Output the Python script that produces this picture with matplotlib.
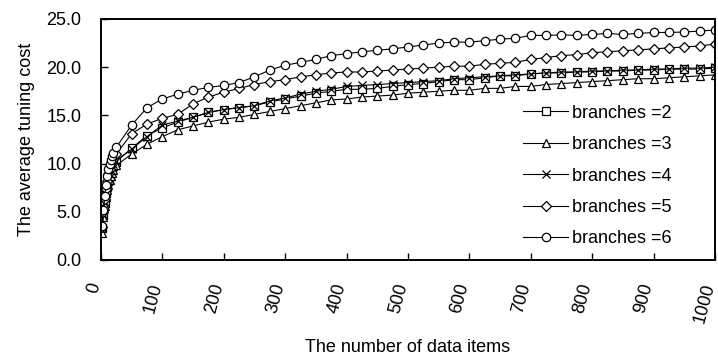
import numpy as np
import matplotlib
matplotlib.use('Agg')
import matplotlib.pyplot as plt
import matplotlib.transforms as mtransforms

plt.rcParams['font.family'] = ['Liberation Sans', 'DejaVu Sans']

# x positions: a dense run of small sizes, then every 25 items
x_dense = [2, 4, 6, 8, 10, 12, 14, 16, 18, 20, 25]
x_coarse = list(range(50, 1001, 25))
x_items = x_dense + x_coarse

b2_dense = [3.3, 4.7, 5.9, 6.9, 7.6, 8.2, 8.7, 9.1, 9.4, 9.7, 10.2]
b2_coarse = [11.6, 12.9, 13.7, 14.3, 14.8, 15.3, 15.6, 15.8, 16.0, 16.4, 16.7, 17.0, 17.3,
             17.5, 17.7, 17.7, 17.8, 18.0, 18.2, 18.3, 18.5, 18.7, 18.7, 18.9, 19.1, 19.1,
             19.3, 19.4, 19.4, 19.5, 19.5, 19.6, 19.6, 19.7, 19.7, 19.8, 19.8, 19.8, 19.9]

b3_dense = [2.8, 4.4, 5.6, 6.5, 7.2, 7.8, 8.3, 8.7, 9.0, 9.3, 9.8]
b3_coarse = [11.0, 12.0, 12.8, 13.5, 13.9, 14.3, 14.6, 14.8, 15.1, 15.4, 15.7, 16.0, 16.3,
             16.6, 16.7, 16.9, 17.0, 17.1, 17.3, 17.4, 17.5, 17.6, 17.6, 17.8, 17.8, 18.0,
             18.0, 18.2, 18.3, 18.4, 18.5, 18.6, 18.7, 18.8, 18.8, 18.9, 19.0, 19.1, 19.2]

b4_dense = [3.3, 4.8, 6.0, 7.0, 7.8, 8.4, 8.9, 9.3, 9.6, 9.9, 10.3]
b4_coarse = [11.5, 12.8, 14.0, 14.4, 14.8, 15.3, 15.6, 15.8, 16.0, 16.5, 16.8, 17.2, 17.5,
             17.7, 18.0, 18.1, 18.2, 18.3, 18.4, 18.5, 18.6, 18.8, 18.9, 19.0, 19.1, 19.2,
             19.3, 19.4, 19.5, 19.5, 19.6, 19.6, 19.7, 19.7, 19.8, 19.8, 19.9, 19.9, 20.0]

b5_dense = [3.4, 5.0, 6.3, 7.4, 8.2, 8.9, 9.4, 9.8, 10.2, 10.5, 11.0]
b5_coarse = [13.1, 14.1, 14.7, 15.1, 16.2, 16.9, 17.4, 17.8, 18.2, 18.5, 18.7, 19.0, 19.2,
             19.4, 19.5, 19.5, 19.6, 19.7, 19.8, 19.9, 20.0, 20.1, 20.1, 20.3, 20.4, 20.5,
             20.8, 21.0, 21.2, 21.3, 21.5, 21.6, 21.7, 21.8, 21.9, 22.0, 22.1, 22.2, 22.4]

b6_dense = [3.5, 5.2, 6.6, 7.8, 8.7, 9.4, 9.9, 10.4, 10.8, 11.1, 11.7]
b6_coarse = [14.0, 15.8, 16.7, 17.2, 17.6, 17.9, 18.1, 18.4, 19.0, 19.7, 20.2, 20.5, 20.8,
             21.2, 21.4, 21.6, 21.75, 21.9, 22.1, 22.3, 22.5, 22.6, 22.6, 22.75, 22.9, 23.0,
             23.3, 23.3, 23.35, 23.3, 23.4, 23.5, 23.4, 23.5, 23.6, 23.6, 23.65, 23.75, 23.85]

series = [
    ('branches =2', b2_dense + b2_coarse, 's'),
    ('branches =3', b3_dense + b3_coarse, '^'),
    ('branches =4', b4_dense + b4_coarse, 'x'),
    ('branches =5', b5_dense + b5_coarse, 'D'),
    ('branches =6', b6_dense + b6_coarse, 'o'),
]

fs = 13

fig = plt.figure(figsize=(7.18, 3.55), dpi=100)
ax = fig.add_axes([0.1407, 0.268, 0.855, 0.6785])

for label, values, marker in series:
    size = 5.5 if marker == 'D' else 6
    ax.plot(x_items, values, color='black', linewidth=0.8, marker=marker,
            markersize=size, markerfacecolor='white', markeredgecolor='black',
            markeredgewidth=0.9, label=label)

ax.set_xlim(0, 1000)
ax.set_ylim(0, 25)
ax.set_xticks(range(0, 1001, 100))
ax.set_yticks(np.arange(0, 25.1, 5))
ax.set_yticklabels(['%.1f' % v for v in np.arange(0, 25.1, 5)])
ax.tick_params(direction='in', length=5, width=1, labelsize=fs, colors='black')
ax.tick_params(axis='x', pad=17)
ax.tick_params(axis='y', pad=14)
shift = mtransforms.ScaledTranslation(-4 / 72, 0, fig.dpi_scale_trans)
for lbl in ax.get_xticklabels():
    lbl.set_rotation(75)
    lbl.set_ha('right')
    lbl.set_rotation_mode('anchor')
    lbl.set_va('center')
    lbl.set_transform(lbl.get_transform() + shift)
for sp in ax.spines.values():
    sp.set_linewidth(1.4)

ax.set_ylabel('The average tuning cost', fontsize=fs, labelpad=8)
ax.set_xlabel('The number of data items', fontsize=fs, labelpad=10)

fig.legend(loc='center left', bbox_to_anchor=(0.7187, 0.504), frameon=False,
           fontsize=fs, handlelength=2.5, labelspacing=0.8, handletextpad=0.2,
           borderaxespad=0.0)

fig.savefig('out.png', dpi=100)
